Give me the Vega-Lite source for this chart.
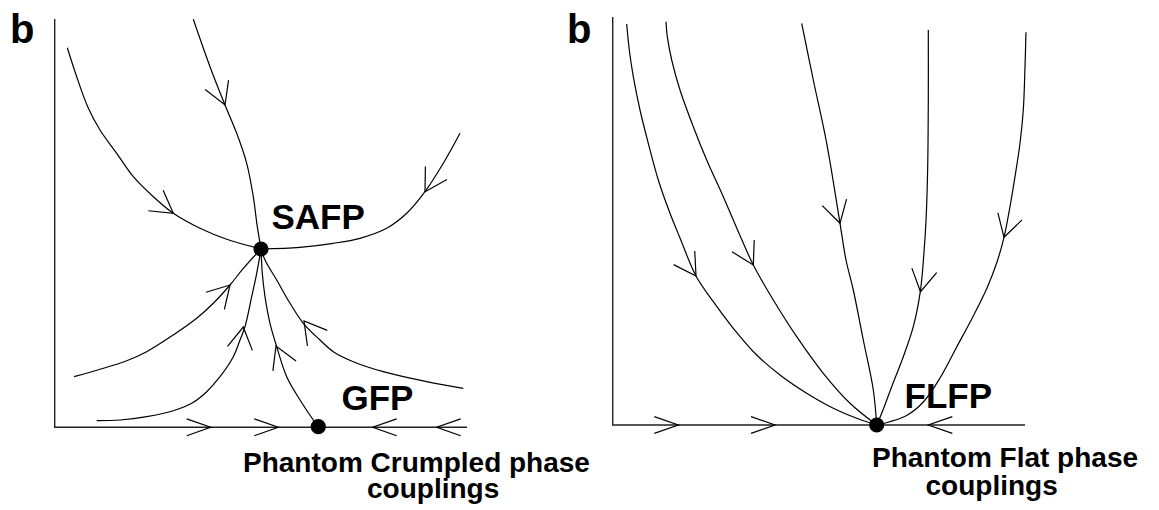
{
  "$schema": "https://vega.github.io/schema/vega-lite/v6.json",
  "width": 1159,
  "height": 510,
  "autosize": {"type": "fit", "contains": "padding"},
  "padding": 0,
  "background": "white",
  "config": {"view": {"stroke": null}},
  "datasets": {
    "axes": [
      {"id": "L", "i": 0, "x": 54.7, "y": 19},
      {"id": "L", "i": 1, "x": 54.7, "y": 427.3},
      {"id": "L", "i": 2, "x": 467, "y": 427.3},
      {"id": "R", "i": 0, "x": 612.7, "y": 17},
      {"id": "R", "i": 1, "x": 612.7, "y": 425},
      {"id": "R", "i": 2, "x": 1025, "y": 425}
    ],
    "curves": [
      {"id": "A", "i": 0, "x": 67.3, "y": 47.7},
      {"id": "A", "i": 1, "x": 76.7, "y": 76.7},
      {"id": "A", "i": 2, "x": 87.7, "y": 106.7},
      {"id": "A", "i": 3, "x": 100, "y": 130},
      {"id": "A", "i": 4, "x": 116.7, "y": 153.3},
      {"id": "A", "i": 5, "x": 133.3, "y": 176.7},
      {"id": "A", "i": 6, "x": 153.3, "y": 196.7},
      {"id": "A", "i": 7, "x": 173.3, "y": 213.3},
      {"id": "A", "i": 8, "x": 200, "y": 228.3},
      {"id": "A", "i": 9, "x": 226.7, "y": 239.3},
      {"id": "A", "i": 10, "x": 261, "y": 249},
      {"id": "B", "i": 0, "x": 193.3, "y": 19.3},
      {"id": "B", "i": 1, "x": 210, "y": 66.7},
      {"id": "B", "i": 2, "x": 225, "y": 105},
      {"id": "B", "i": 3, "x": 236.7, "y": 133.3},
      {"id": "B", "i": 4, "x": 246.7, "y": 163.3},
      {"id": "B", "i": 5, "x": 253.3, "y": 196.7},
      {"id": "B", "i": 6, "x": 257.3, "y": 226.7},
      {"id": "B", "i": 7, "x": 261, "y": 249},
      {"id": "C", "i": 0, "x": 460, "y": 133.3},
      {"id": "C", "i": 1, "x": 443.3, "y": 163.3},
      {"id": "C", "i": 2, "x": 425, "y": 191.7},
      {"id": "C", "i": 3, "x": 406.7, "y": 213.3},
      {"id": "C", "i": 4, "x": 386.7, "y": 228.3},
      {"id": "C", "i": 5, "x": 360, "y": 238.3},
      {"id": "C", "i": 6, "x": 333.3, "y": 243.3},
      {"id": "C", "i": 7, "x": 300, "y": 247.3},
      {"id": "C", "i": 8, "x": 261, "y": 249},
      {"id": "D", "i": 0, "x": 74, "y": 376.7},
      {"id": "D", "i": 1, "x": 100, "y": 369.3},
      {"id": "D", "i": 2, "x": 126.7, "y": 360.7},
      {"id": "D", "i": 3, "x": 146.7, "y": 351.7},
      {"id": "D", "i": 4, "x": 173.3, "y": 335},
      {"id": "D", "i": 5, "x": 196.7, "y": 318.3},
      {"id": "D", "i": 6, "x": 213.3, "y": 303.3},
      {"id": "D", "i": 7, "x": 230, "y": 285},
      {"id": "D", "i": 8, "x": 243.3, "y": 268.3},
      {"id": "D", "i": 9, "x": 261, "y": 249},
      {"id": "E", "i": 0, "x": 96.7, "y": 420.7},
      {"id": "E", "i": 1, "x": 120, "y": 420},
      {"id": "E", "i": 2, "x": 146.7, "y": 416.7},
      {"id": "E", "i": 3, "x": 173.3, "y": 410.7},
      {"id": "E", "i": 4, "x": 191.7, "y": 403.3},
      {"id": "E", "i": 5, "x": 206.7, "y": 391.7},
      {"id": "E", "i": 6, "x": 220, "y": 376.7},
      {"id": "E", "i": 7, "x": 233.3, "y": 356.7},
      {"id": "E", "i": 8, "x": 240, "y": 340},
      {"id": "E", "i": 9, "x": 245, "y": 326.7},
      {"id": "E", "i": 10, "x": 251.7, "y": 296.7},
      {"id": "E", "i": 11, "x": 256.7, "y": 273.3},
      {"id": "E", "i": 12, "x": 261, "y": 249},
      {"id": "F", "i": 0, "x": 318.3, "y": 426.7},
      {"id": "F", "i": 1, "x": 313.3, "y": 420},
      {"id": "F", "i": 2, "x": 300, "y": 400},
      {"id": "F", "i": 3, "x": 286.7, "y": 376.7},
      {"id": "F", "i": 4, "x": 276.7, "y": 346.7},
      {"id": "F", "i": 5, "x": 270, "y": 323.3},
      {"id": "F", "i": 6, "x": 265, "y": 296.7},
      {"id": "F", "i": 7, "x": 262.3, "y": 273.3},
      {"id": "F", "i": 8, "x": 261, "y": 249},
      {"id": "G", "i": 0, "x": 463.3, "y": 388.3},
      {"id": "G", "i": 1, "x": 426.7, "y": 381.7},
      {"id": "G", "i": 2, "x": 383.3, "y": 371.7},
      {"id": "G", "i": 3, "x": 353.3, "y": 361.7},
      {"id": "G", "i": 4, "x": 333.3, "y": 351.7},
      {"id": "G", "i": 5, "x": 320, "y": 340},
      {"id": "G", "i": 6, "x": 303.3, "y": 323.3},
      {"id": "G", "i": 7, "x": 290, "y": 303.3},
      {"id": "G", "i": 8, "x": 276.7, "y": 280},
      {"id": "G", "i": 9, "x": 265, "y": 260},
      {"id": "G", "i": 10, "x": 261, "y": 249},
      {"id": "R1", "i": 0, "x": 626.7, "y": 24},
      {"id": "R1", "i": 1, "x": 629.3, "y": 50},
      {"id": "R1", "i": 2, "x": 633.3, "y": 76.7},
      {"id": "R1", "i": 3, "x": 640, "y": 110},
      {"id": "R1", "i": 4, "x": 648.3, "y": 143.3},
      {"id": "R1", "i": 5, "x": 658.3, "y": 180},
      {"id": "R1", "i": 6, "x": 670, "y": 213.3},
      {"id": "R1", "i": 7, "x": 680, "y": 238},
      {"id": "R1", "i": 8, "x": 696, "y": 276},
      {"id": "R1", "i": 9, "x": 713.3, "y": 301.7},
      {"id": "R1", "i": 10, "x": 733.3, "y": 328.3},
      {"id": "R1", "i": 11, "x": 756.7, "y": 355},
      {"id": "R1", "i": 12, "x": 780, "y": 375},
      {"id": "R1", "i": 13, "x": 806.7, "y": 393.3},
      {"id": "R1", "i": 14, "x": 833.3, "y": 408.3},
      {"id": "R1", "i": 15, "x": 856.7, "y": 418.3},
      {"id": "R1", "i": 16, "x": 876.7, "y": 425},
      {"id": "R2", "i": 0, "x": 666, "y": 21.7},
      {"id": "R2", "i": 1, "x": 667.3, "y": 36.7},
      {"id": "R2", "i": 2, "x": 671.7, "y": 60},
      {"id": "R2", "i": 3, "x": 680, "y": 90},
      {"id": "R2", "i": 4, "x": 693.3, "y": 126.7},
      {"id": "R2", "i": 5, "x": 706.7, "y": 160},
      {"id": "R2", "i": 6, "x": 723.3, "y": 196.7},
      {"id": "R2", "i": 7, "x": 738, "y": 231},
      {"id": "R2", "i": 8, "x": 753.3, "y": 265},
      {"id": "R2", "i": 9, "x": 773.3, "y": 300},
      {"id": "R2", "i": 10, "x": 796.7, "y": 336.7},
      {"id": "R2", "i": 11, "x": 823.3, "y": 373.3},
      {"id": "R2", "i": 12, "x": 850, "y": 403.3},
      {"id": "R2", "i": 13, "x": 876.7, "y": 425},
      {"id": "R3", "i": 0, "x": 801.7, "y": 23.3},
      {"id": "R3", "i": 1, "x": 813.3, "y": 80},
      {"id": "R3", "i": 2, "x": 826.7, "y": 143.3},
      {"id": "R3", "i": 3, "x": 840, "y": 223.3},
      {"id": "R3", "i": 4, "x": 846, "y": 260},
      {"id": "R3", "i": 5, "x": 853.3, "y": 290},
      {"id": "R3", "i": 6, "x": 863.3, "y": 340},
      {"id": "R3", "i": 7, "x": 873.3, "y": 390},
      {"id": "R3", "i": 8, "x": 876.7, "y": 425},
      {"id": "R4", "i": 0, "x": 928.3, "y": 30},
      {"id": "R4", "i": 1, "x": 928.3, "y": 100},
      {"id": "R4", "i": 2, "x": 927.7, "y": 166.7},
      {"id": "R4", "i": 3, "x": 926.2, "y": 216.7},
      {"id": "R4", "i": 4, "x": 923.8, "y": 255},
      {"id": "R4", "i": 5, "x": 920.3, "y": 291.7},
      {"id": "R4", "i": 6, "x": 913.3, "y": 326.7},
      {"id": "R4", "i": 7, "x": 903.3, "y": 356.7},
      {"id": "R4", "i": 8, "x": 891.7, "y": 386.7},
      {"id": "R4", "i": 9, "x": 881.7, "y": 413.3},
      {"id": "R4", "i": 10, "x": 876.7, "y": 425},
      {"id": "R5", "i": 0, "x": 1026, "y": 32.3},
      {"id": "R5", "i": 1, "x": 1025, "y": 66.7},
      {"id": "R5", "i": 2, "x": 1023.3, "y": 110},
      {"id": "R5", "i": 3, "x": 1020, "y": 143.3},
      {"id": "R5", "i": 4, "x": 1015, "y": 176.7},
      {"id": "R5", "i": 5, "x": 1008.8, "y": 213.3},
      {"id": "R5", "i": 6, "x": 1004, "y": 237.3},
      {"id": "R5", "i": 7, "x": 997, "y": 262},
      {"id": "R5", "i": 8, "x": 987, "y": 288},
      {"id": "R5", "i": 9, "x": 973.3, "y": 316},
      {"id": "R5", "i": 10, "x": 956.7, "y": 347},
      {"id": "R5", "i": 11, "x": 940, "y": 378},
      {"id": "R5", "i": 12, "x": 923.3, "y": 402},
      {"id": "R5", "i": 13, "x": 906.7, "y": 415.5},
      {"id": "R5", "i": 14, "x": 889, "y": 422},
      {"id": "R5", "i": 15, "x": 876.7, "y": 425}
    ],
    "arrows": [
      {"kind": "curve", "x": 173.3, "y": 213.3, "dir": 36},
      {"kind": "curve", "x": 225, "y": 105, "dir": 68},
      {"kind": "curve", "x": 425, "y": 191.7, "dir": 121},
      {"kind": "curve", "x": 230, "y": 285, "dir": 313},
      {"kind": "curve", "x": 243.3, "y": 327, "dir": 279},
      {"kind": "curve", "x": 276, "y": 346, "dir": 247},
      {"kind": "curve", "x": 304, "y": 321, "dir": 232},
      {"kind": "curve", "x": 696, "y": 276, "dir": 57},
      {"kind": "curve", "x": 753.3, "y": 265, "dir": 62},
      {"kind": "curve", "x": 840, "y": 223.3, "dir": 75},
      {"kind": "curve", "x": 920.5, "y": 291.7, "dir": 100},
      {"kind": "curve", "x": 1004, "y": 237.3, "dir": 106},
      {"kind": "axis", "x": 210.7, "y": 427.3, "dir": 0},
      {"kind": "axis", "x": 278.3, "y": 427.3, "dir": 0},
      {"kind": "axis", "x": 372.7, "y": 427.3, "dir": 180},
      {"kind": "axis", "x": 436.7, "y": 427.3, "dir": 180},
      {"kind": "axis", "x": 678.3, "y": 425, "dir": 0},
      {"kind": "axis", "x": 775, "y": 425, "dir": 0},
      {"kind": "axis", "x": 928.3, "y": 425, "dir": 180}
    ],
    "nodes": [
      {"name": "SAFP", "x": 261, "y": 249},
      {"name": "GFP", "x": 318.3, "y": 426.7},
      {"name": "FLFP", "x": 876.7, "y": 425}
    ],
    "panelTags": [
      {"text": "b", "x": 10, "y": 43},
      {"text": "b", "x": 567, "y": 43}
    ],
    "nodeLabels": [
      {"text": "SAFP", "x": 271.5, "y": 229},
      {"text": "GFP", "x": 341.5, "y": 410},
      {"text": "FLFP", "x": 904.5, "y": 408}
    ],
    "captions": [
      {"text": "Phantom Crumpled phase", "x": 243, "y": 472},
      {"text": "couplings", "x": 367, "y": 498},
      {"text": "Phantom Flat phase", "x": 872, "y": 467},
      {"text": "couplings", "x": 925.5, "y": 495}
    ]
  },
  "encoding": {
    "x": {"field": "x", "type": "quantitative", "scale": {"domain": [0, 1159], "nice": false, "zero": false}, "axis": null},
    "y": {"field": "y", "type": "quantitative", "scale": {"domain": [0, 510], "nice": false, "zero": false, "reverse": true}, "axis": null}
  },
  "layer": [
    {
      "data": {"name": "axes"},
      "mark": {"type": "line", "color": "#222", "strokeWidth": 1.4, "interpolate": "linear"},
      "encoding": {"detail": {"field": "id"}, "order": {"field": "i", "type": "quantitative"}}
    },
    {
      "data": {"name": "curves"},
      "mark": {"type": "line", "color": "black", "strokeWidth": 1.2, "interpolate": "catmull-rom"},
      "encoding": {"detail": {"field": "id"}, "order": {"field": "i", "type": "quantitative"}}
    },
    {
      "data": {"name": "arrows"},
      "transform": [{"filter": "datum.kind === 'curve'"}],
      "mark": {"type": "point", "shape": "M-1,-0.58L0,0L-1,0.58", "filled": false, "color": "black", "strokeWidth": 1.2, "size": 1884, "opacity": 1},
      "encoding": {"angle": {"field": "dir", "type": "quantitative", "scale": null}}
    },
    {
      "data": {"name": "arrows"},
      "transform": [{"filter": "datum.kind === 'axis'"}],
      "mark": {"type": "point", "shape": "M-1,-0.35L0,0L-1,0.35", "filled": false, "color": "black", "strokeWidth": 1.2, "size": 2304, "opacity": 1},
      "encoding": {"angle": {"field": "dir", "type": "quantitative", "scale": null}}
    },
    {
      "data": {"name": "nodes"},
      "mark": {"type": "point", "shape": "circle", "filled": true, "color": "black", "size": 230, "opacity": 1}
    },
    {
      "data": {"name": "panelTags"},
      "mark": {"type": "text", "font": "Liberation Sans", "fontWeight": "bold", "fontSize": 40, "align": "left", "baseline": "alphabetic", "color": "black"},
      "encoding": {"text": {"field": "text"}}
    },
    {
      "data": {"name": "nodeLabels"},
      "mark": {"type": "text", "font": "Liberation Sans", "fontWeight": "bold", "fontSize": 35, "align": "left", "baseline": "alphabetic", "color": "black"},
      "encoding": {"text": {"field": "text"}}
    },
    {
      "data": {"name": "captions"},
      "mark": {"type": "text", "font": "Liberation Sans", "fontWeight": "bold", "fontSize": 28, "align": "left", "baseline": "alphabetic", "color": "black"},
      "encoding": {"text": {"field": "text"}}
    }
  ]
}
